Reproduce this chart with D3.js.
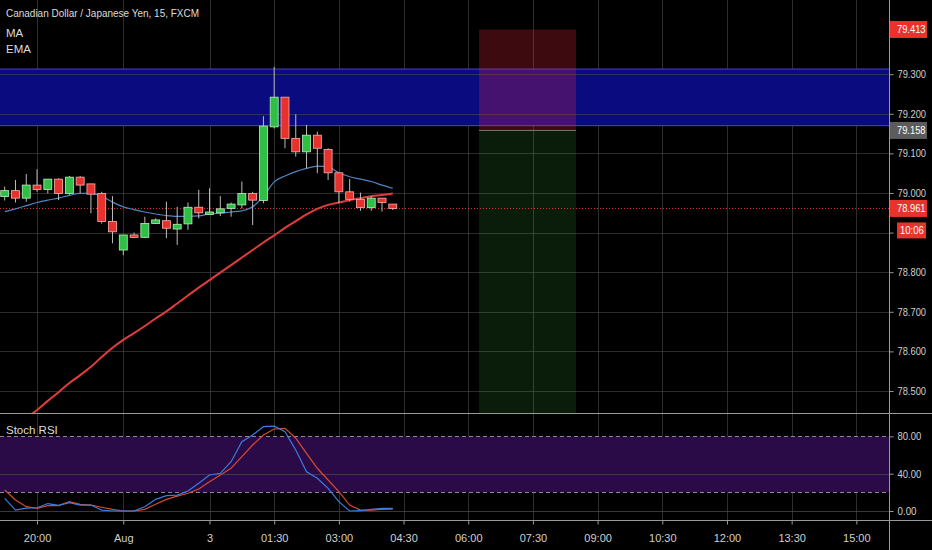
<!DOCTYPE html>
<html><head><meta charset="utf-8">
<script src="https://cdn.jsdelivr.net/npm/d3@7"></script>
<style>
body{margin:0;background:#000;}
svg{display:block;font-family:"Liberation Sans",Arial,sans-serif;}
</style></head>
<body><svg id="chart" width="932" height="550"></svg>
<script>
// ---------- data ----------
const times = ["2018-08-02T19:15","2018-08-02T19:30","2018-08-02T19:45","2018-08-02T20:00","2018-08-02T20:15","2018-08-02T20:30","2018-08-02T20:45","2018-08-02T21:00","2018-08-02T21:15","2018-08-02T21:30","2018-08-02T21:45","2018-08-02T22:00","2018-08-02T22:15","2018-08-02T22:30","2018-08-02T22:45","2018-08-02T23:00","2018-08-02T23:15","2018-08-02T23:30","2018-08-02T23:45","2018-08-03T00:00","2018-08-03T00:15","2018-08-03T00:30","2018-08-03T00:45","2018-08-03T01:00","2018-08-03T01:15","2018-08-03T01:30","2018-08-03T01:45","2018-08-03T02:00","2018-08-03T02:15","2018-08-03T02:30","2018-08-03T02:45","2018-08-03T03:00","2018-08-03T03:15","2018-08-03T03:30","2018-08-03T03:45","2018-08-03T04:00","2018-08-03T04:15"];
const openValues  = [78.991,79.006,78.987,79.020,79.009,79.035,78.999,79.040,79.023,78.999,78.928,78.856,78.894,78.888,78.923,78.930,78.909,78.922,78.964,78.946,78.950,78.961,78.970,78.999,78.981,79.167,79.242,79.138,79.104,79.146,79.110,79.051,79.003,78.984,78.963,78.987,78.972];
const highValues  = [79.016,79.033,79.048,79.060,79.035,79.037,79.043,79.043,79.023,79.003,78.992,78.894,78.900,78.940,78.936,78.978,78.965,78.976,79.008,79.012,78.992,78.976,79.029,79.003,79.194,79.319,79.242,79.199,79.172,79.155,79.113,79.051,79.035,79.001,78.992,78.987,78.972];
const lowValues   = [78.981,78.976,78.978,79.003,78.999,78.982,78.995,78.999,78.949,78.923,78.873,78.843,78.886,78.886,78.922,78.886,78.869,78.907,78.936,78.946,78.942,78.940,78.961,78.919,78.974,79.163,79.113,79.092,79.062,79.050,79.033,78.974,78.978,78.955,78.955,78.953,78.957];
const closeValues = [79.006,78.987,79.020,79.009,79.035,78.999,79.040,79.020,78.997,78.928,78.902,78.894,78.888,78.923,78.932,78.911,78.921,78.964,78.950,78.952,78.960,78.972,78.999,78.982,79.169,79.242,79.138,79.104,79.146,79.113,79.051,79.003,78.984,78.963,78.987,78.976,78.961];
const maValues  = [78.953,78.960,78.968,78.976,78.982,78.987,78.994,78.999,78.999,78.992,78.977,78.965,78.958,78.952,78.947,78.943,78.941,78.941,78.942,78.947,78.949,78.952,78.955,78.965,78.992,79.028,79.043,79.054,79.062,79.068,79.066,79.051,79.041,79.035,79.029,79.020,79.012];
const emaValues = [78.386,78.409,78.432,78.452,78.475,78.497,78.520,78.540,78.561,78.586,78.609,78.629,78.646,78.664,78.683,78.701,78.721,78.741,78.761,78.780,78.799,78.818,78.837,78.856,78.875,78.893,78.912,78.929,78.946,78.960,78.970,78.976,78.982,78.987,78.992,78.995,78.999];
const stochK = [13.6,1,3,3.5,8,6,9,6.4,6.4,1,0,0,0,4.6,12.5,16.4,17,21.4,29.7,38.6,40.4,52.8,74.3,81.5,90.4,91,85,65.4,42,35,24.3,10,0,0.3,1.8,2.9,2.9];
const stochD = [22.5,11.8,4.6,2.9,5.7,5.7,10,7.2,6.4,4,1.8,0,0,1.8,7.2,12.5,16,19,23.6,31.4,38.6,45.8,58.2,70.7,81.5,87.9,88.6,78,61.8,45.8,33.2,20.7,6.4,1,1,1.8,2.1];

const priceTicks = [79.3,79.2,79.1,79.0,78.9,78.8,78.7,78.6,78.5];
const hiddenPriceTick = 78.9; // covered by the countdown box in the reference
const stochTicks = [80,40,0];
const stochBands = [20,80];
const timeTicks = ["2018-08-02T20:00","2018-08-02T22:00","2018-08-03T00:00","2018-08-03T01:30","2018-08-03T03:00","2018-08-03T04:30","2018-08-03T06:00","2018-08-03T07:30","2018-08-03T09:00","2018-08-03T10:30","2018-08-03T12:00","2018-08-03T13:30","2018-08-03T15:00"];
const timeTickLabels = ["20:00","Aug","3","01:30","03:00","04:30","06:00","07:30","09:00","10:30","12:00","13:30","15:00"];
const timeDomain = ["2018-08-02T19:08:28","2018-08-03T15:45:27"];
const priceDomain = [78.4444, 79.4874];

const zoneTop = 79.313, zoneBottom = 79.170;
const posStart = "2018-08-03T06:15", posEnd = "2018-08-03T08:30";
const posStop = 79.413, posEntry = 79.158, posTarget = 78.40;
const lastPrice = 78.961;
const countdown = "10:06";
const titleText = "Canadian Dollar / Japanese Yen, 15, FXCM";
const legendItems = ["MA","EMA"];

// ---------- layout ----------
const W = 932, H = 550;
const plotR = 889;
const mainTop = 0, mainBottom = 413;
const stTop = 414, stBottom = 521;
const charW = 4.75;

const parse = d3.utcParse("%Y-%m-%dT%H:%M");
const parseS = d3.utcParse("%Y-%m-%dT%H:%M:%S");
const dates = times.map(parse);
const bars = dates.map((d,i)=>({t:d,o:openValues[i],h:highValues[i],l:lowValues[i],c:closeValues[i],ma:maValues[i],ema:emaValues[i],k:stochK[i],d:stochD[i]}));

const x = d3.scaleTime().domain(timeDomain.map(parseS)).range([0, plotR]);
const y = d3.scaleLinear().domain(priceDomain).range([mainBottom, mainTop]);
const ys = d3.scaleLinear().domain([0,100]).range([511, 417.7]);

const svg = d3.select("#chart");
svg.append("rect").attr("width",W).attr("height",H).attr("fill","#000");

const defs = svg.append("defs");
defs.append("clipPath").attr("id","clipMain").append("rect").attr("x",0).attr("y",mainTop).attr("width",plotR).attr("height",mainBottom-mainTop);
defs.append("clipPath").attr("id","clipSt").append("rect").attr("x",0).attr("y",stTop).attr("width",plotR).attr("height",stBottom-stTop);

const gridColor = "#2e2e2e";
const tickDates = timeTicks.map(parse);
svg.append("g").selectAll("line").data(tickDates).join("line")
  .attr("x1",d=>Math.round(x(d))+0.5).attr("x2",d=>Math.round(x(d))+0.5).attr("y1",0).attr("y2",stBottom)
  .attr("stroke",gridColor).attr("stroke-width",1);

const main = svg.append("g").attr("clip-path","url(#clipMain)");

// blue zone
main.append("rect").attr("x",0).attr("width",plotR)
  .attr("y",y(zoneTop)).attr("height",y(zoneBottom)-y(zoneTop))
  .attr("fill","#0b0b80");
main.append("line").attr("x1",0).attr("x2",plotR).attr("y1",y(zoneTop)).attr("y2",y(zoneTop)).attr("stroke","#4646cc").attr("stroke-width",1);
main.append("line").attr("x1",0).attr("x2",plotR).attr("y1",y(zoneBottom)).attr("y2",y(zoneBottom)).attr("stroke","#4646cc").attr("stroke-width",1);

// horizontal grid
main.append("g").selectAll("line").data(priceTicks).join("line")
  .attr("x1",0).attr("x2",plotR).attr("y1",d=>Math.round(y(d))+0.5).attr("y2",d=>Math.round(y(d))+0.5)
  .attr("stroke","#4a4a4a").attr("stroke-opacity",0.6);

// position tool
const px0 = x(parse(posStart)), px1 = x(parse(posEnd));
main.append("rect").attr("x",px0).attr("width",px1-px0).attr("y",y(posStop)).attr("height",y(posEntry)-y(posStop))
  .attr("fill","rgb(235,40,60)").attr("fill-opacity",0.26);
main.append("rect").attr("x",px0).attr("width",px1-px0).attr("y",y(posEntry)).attr("height",y(posTarget)-y(posEntry))
  .attr("fill","rgb(60,170,60)").attr("fill-opacity",0.17);
main.append("line").attr("x1",px0).attr("x2",px1).attr("y1",y(posEntry)).attr("y2",y(posEntry)).attr("stroke","#7a7a6a").attr("stroke-width",1);

// last price dotted line
main.append("line").attr("x1",0).attr("x2",plotR).attr("y1",y(lastPrice)).attr("y2",y(lastPrice))
  .attr("stroke","#e0332e").attr("stroke-width",1).attr("stroke-dasharray","1,2");

// MA & EMA
main.append("path").datum(bars).attr("fill","none").attr("stroke","#4f83c2").attr("stroke-width",1.2)
  .attr("d",d3.line().x(d=>x(d.t)).y(d=>y(d.ma)).curve(d3.curveMonotoneX));
main.append("path").datum(bars).attr("fill","none").attr("stroke","#e23c3c").attr("stroke-width",2)
  .attr("d",d3.line().x(d=>x(d.t)).y(d=>y(d.ema)).curve(d3.curveMonotoneX));

// candles
const barW = (x(dates[1]) - x(dates[0])) * 0.74;
const cg = main.append("g").selectAll("g").data(bars).join("g");
cg.append("line").attr("x1",d=>x(d.t)).attr("x2",d=>x(d.t)).attr("y1",d=>y(d.h)).attr("y2",d=>y(d.l))
  .attr("stroke","#bdbdbd").attr("stroke-width",1);
cg.append("rect").attr("x",d=>x(d.t)-barW/2).attr("width",barW)
  .attr("y",d=>y(Math.max(d.o,d.c))).attr("height",d=>Math.max(1.5,Math.abs(y(d.o)-y(d.c))))
  .attr("fill",d=>d.c>=d.o?"#2fbf45":"#e8312b")
  .attr("stroke",d=>d.c>=d.o?"#b9efbf":"#f5b3b0").attr("stroke-width",0.8);

// legend
svg.append("text").attr("x",6).attr("y",17).attr("fill","#dcdcdc").attr("font-size",11.5)
  .attr("textLength",193).attr("lengthAdjust","spacingAndGlyphs").text(titleText);
svg.selectAll("text.leg").data(legendItems).join("text").attr("class","leg")
  .attr("x",6).attr("y",(d,i)=>37+i*16).attr("fill","#dcdcdc").attr("font-size",11.5).text(d=>d);

// ---------- stoch pane ----------
const st = svg.append("g").attr("clip-path","url(#clipSt)");
st.append("rect").attr("x",0).attr("width",plotR).attr("y",ys(stochBands[1])).attr("height",ys(stochBands[0])-ys(stochBands[1]))
  .attr("fill","#2a0b48");
st.append("g").selectAll("line").data([40,0]).join("line")
  .attr("x1",0).attr("x2",plotR).attr("y1",d=>Math.round(ys(d))+0.5).attr("y2",d=>Math.round(ys(d))+0.5)
  .attr("stroke","#4a4a4a").attr("stroke-opacity",0.75);
st.append("g").selectAll("line").data(stochBands).join("line")
  .attr("x1",0).attr("x2",plotR).attr("y1",d=>Math.round(ys(d))+0.5).attr("y2",d=>Math.round(ys(d))+0.5)
  .attr("stroke","#8a8a8a").attr("stroke-dasharray","4,3");
st.append("path").datum(bars).attr("fill","none").attr("stroke","#d64a30").attr("stroke-width",1.2)
  .attr("d",d3.line().x(d=>x(d.t)).y(d=>ys(d.d)));
st.append("path").datum(bars).attr("fill","none").attr("stroke","#3a7de0").attr("stroke-width",1.2)
  .attr("d",d3.line().x(d=>x(d.t)).y(d=>ys(d.k)));
svg.append("text").attr("x",6).attr("y",434).attr("fill","#dcdcdc").attr("font-size",11.5).text("Stoch RSI");

// separators
svg.append("line").attr("x1",0).attr("x2",W).attr("y1",413.5).attr("y2",413.5).attr("stroke","#9a9a9a");
svg.append("line").attr("x1",0).attr("x2",W).attr("y1",520.5).attr("y2",520.5).attr("stroke","#9a9a9a");
svg.append("line").attr("x1",plotR+0.5).attr("x2",plotR+0.5).attr("y1",0).attr("y2",H).attr("stroke","#9a9a9a");

// ---------- axes ----------
const axisText = "#d0d0d0";
const yAxis = d3.axisRight(y).tickValues(priceTicks)
  .tickFormat(d=>d===hiddenPriceTick?"":d3.format(".3f")(d)).tickSize(4).tickPadding(4);
const gy = svg.append("g").attr("transform",`translate(${plotR+0.5},0)`).call(yAxis);
const ysAxis = d3.axisRight(ys).tickValues(stochTicks).tickFormat(d3.format(".2f")).tickSize(4).tickPadding(4);
const gys = svg.append("g").attr("transform",`translate(${plotR+0.5},0)`).call(ysAxis);
const xAxis = d3.axisBottom(x).tickValues(tickDates).tickFormat((d,i)=>timeTickLabels[i]).tickSize(4).tickPadding(10);
const gx = svg.append("g").attr("transform",`translate(0,${stBottom-0.5})`).call(xAxis);
[gy,gys,gx].forEach(g=>{
  g.select(".domain").remove();
  g.selectAll(".tick line").attr("stroke","#9a9a9a");
  g.selectAll(".tick text").attr("fill",axisText).attr("font-size",11).attr("font-family","'Liberation Sans',Arial,sans-serif");
});
[gy,gys].forEach(g=>{
  g.selectAll(".tick text").each(function(){
    const t = d3.select(this).text();
    if (t) d3.select(this).attr("textLength", t.length*charW).attr("lengthAdjust","spacingAndGlyphs");
  });
});
gy.selectAll(".tick").filter(d=>d===hiddenPriceTick).select("text").remove();

// price labels on axis
function axisLabel(val, text, fill){
  const yy = y(val);
  const g = svg.append("g");
  g.append("rect").attr("x",plotR+1).attr("y",yy-8.5).attr("width",37).attr("height",17).attr("fill",fill);
  g.append("text").attr("x",plotR+8).attr("y",yy+4).attr("fill","#fff").attr("font-size",11)
    .attr("textLength",text.length*charW).attr("lengthAdjust","spacingAndGlyphs").text(text);
}
axisLabel(posStop, d3.format(".3f")(posStop), "#e8322c");
axisLabel(posEntry, d3.format(".3f")(posEntry), "#5c5c5c");
axisLabel(lastPrice, d3.format(".3f")(lastPrice), "#e8322c");
{
  const yy = y(lastPrice) + 22;
  svg.append("rect").attr("x",plotR+8).attr("y",yy-8).attr("width",29).attr("height",16).attr("fill","#e8322c");
  svg.append("text").attr("x",plotR+11).attr("y",yy+4).attr("fill","#fff").attr("font-size",11)
    .attr("textLength",countdown.length*charW).attr("lengthAdjust","spacingAndGlyphs").text(countdown);
}
</script>
</body></html>
